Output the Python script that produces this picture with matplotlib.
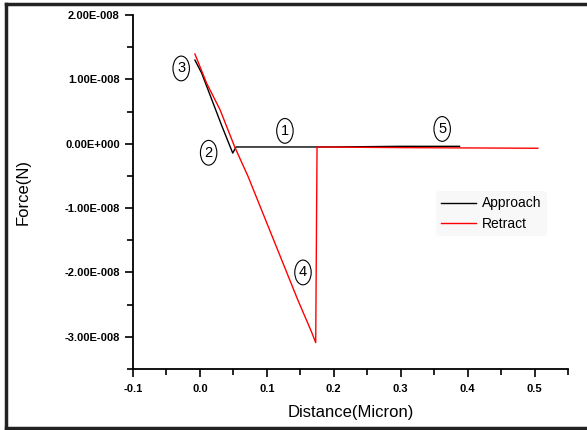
import numpy as np
import matplotlib
matplotlib.use('Agg')
import matplotlib.pyplot as plt
from matplotlib.ticker import MultipleLocator, FuncFormatter
from matplotlib.lines import Line2D

plt.rcParams['font.family'] = ['Liberation Sans', 'DejaVu Sans']

# Approach curve (Distance in micron, Force in N)
approach_x = [-0.0075, 0.0025, 0.033, 0.049, 0.054, 0.12, 0.2, 0.3, 0.388]
approach_y = [1.30e-8, 1.10e-8, 0.27e-8, -0.145e-8, -0.05e-8, -0.05e-8, -0.05e-8, -0.04e-8, -0.04e-8]

# Retract curve
retract_x = [-0.0075, 0.010, 0.030, 0.052, 0.072, 0.146, 0.167, 0.173, 0.175, 0.3, 0.505]
retract_y = [1.395e-8, 0.94e-8, 0.53e-8, -0.05e-8, -0.51e-8, -2.42e-8, -2.93e-8, -3.09e-8,
             -0.05e-8, -0.06e-8, -0.07e-8]

# Circled labels
label_text = ['1', '2', '3', '4', '5']
label_x = [0.127, 0.013, -0.028, 0.154, 0.362]
label_y = [0.2e-8, -0.14e-8, 1.17e-8, -2.0e-8, 0.23e-8]

fig = plt.figure(figsize=(5.87, 4.30), dpi=100)
ax = fig.add_axes([0.2266, 0.1419, 0.741, 0.8231])

ax.plot(approach_x, approach_y, color='black', lw=1.0, label='Approach')
ax.plot(retract_x, retract_y, color='red', lw=1.0, label='Retract')

for t, x, y in zip(label_text, label_x, label_y):
    ax.text(x, y, t, ha='center', va='center', fontsize=10.5,
            bbox=dict(boxstyle='ellipse,pad=0.12', fc='white', ec='black', lw=0.8))

ax.set_xlim(-0.1, 0.55)
ax.set_ylim(-3.5e-8, 2.0e-8)
ax.xaxis.set_major_locator(MultipleLocator(0.1))
ax.xaxis.set_minor_locator(MultipleLocator(0.05))
ax.yaxis.set_major_locator(MultipleLocator(1e-8))
ax.yaxis.set_minor_locator(MultipleLocator(0.5e-8))

def yfmt(v, pos):
    if abs(v) < 1e-12:
        return '0.00E+000'
    exp = int(np.floor(np.log10(abs(v))))
    mant = v / 10**exp
    return f'{mant:.2f}E-{abs(exp):03d}'

ax.yaxis.set_major_formatter(FuncFormatter(yfmt))
ax.xaxis.set_major_formatter(FuncFormatter(lambda v, p: f'{v:.1f}'))

for s in ['top', 'right']:
    ax.spines[s].set_visible(False)
for s in ['left', 'bottom']:
    ax.spines[s].set_linewidth(1.3)
ax.tick_params(which='major', direction='out', length=6, width=1.2, labelsize=8)
ax.tick_params(which='minor', direction='out', length=4, width=1.2)
ax.tick_params(axis='x', which='major', pad=5)
for lbl in ax.get_xticklabels() + ax.get_yticklabels():
    lbl.set_fontweight('bold')

ax.set_xlabel('Distance(Micron)', fontsize=12, labelpad=8)
ax.set_ylabel('Force(N)', fontsize=12)
ax.yaxis.set_label_coords(-0.235, 0.5)

leg = ax.legend(loc='upper left', bbox_to_anchor=(0.68, 0.523), frameon=True, fontsize=10,
                handlelength=2.5, handletextpad=0.4, borderpad=0.4, labelspacing=0.45)
leg.get_frame().set_facecolor('#f7f7f7')
leg.get_frame().set_edgecolor('none')

# outer border of the figure (left, top, bottom)
fig.add_artist(Line2D([6/587, 6/587], [2/430, 1 - 4/430], color='#222222', lw=2.5, transform=fig.transFigure))
fig.add_artist(Line2D([6/587, 1], [1 - 4/430, 1 - 4/430], color='#222222', lw=2.5, transform=fig.transFigure))
fig.add_artist(Line2D([6/587, 1], [2/430, 2/430], color='#222222', lw=2.5, transform=fig.transFigure))

fig.savefig('out.png', dpi=100)
